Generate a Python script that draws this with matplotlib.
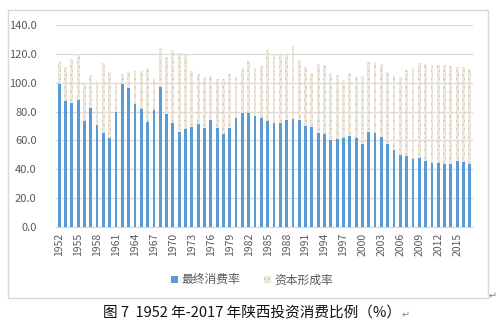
import matplotlib
matplotlib.use("Agg")
import matplotlib.pyplot as plt
import numpy as np
from matplotlib.patches import Rectangle

plt.rcParams['font.family'] = ['Noto Sans CJK SC', 'DejaVu Sans']
plt.rcParams['hatch.linewidth'] = 0.8

years = list(range(1952, 2018))
# 最终消费率
consumption = [99.3, 87.1, 85.7, 88.2, 73.7, 82.5, 71.0, 65.0, 61.8, 79.7,
               99.3, 96.3, 85.5, 82.0, 72.8, 80.9, 96.8, 78.3, 72.4, 66.1,
               68.0, 69.1, 71.4, 68.4, 74.2, 68.4, 64.7, 68.4, 75.8, 78.8,
               78.8, 77.2, 75.3, 73.7, 72.4, 71.9, 74.2, 74.9, 74.2, 70.0,
               69.6, 65.2, 64.3, 60.4, 60.8, 61.5, 62.9, 61.5, 57.8, 66.1,
               65.2, 62.2, 57.4, 53.5, 50.2, 49.3, 47.2, 47.7, 45.4, 44.5,
               44.2, 43.8, 44.0, 45.4, 44.9, 44.0]
# 资本形成率
capital = [15.2, 23.5, 30.7, 31.4, 25.8, 22.8, 29.7, 48.4, 45.8, 19.1,
           6.5, 10.8, 22.8, 25.8, 37.3, 22.1, 27.6, 39.2, 50.2, 54.2,
           51.4, 39.2, 34.4, 35.3, 30.6, 34.4, 37.6, 37.4, 29.0, 31.3,
           36.2, 33.2, 36.2, 48.9, 46.7, 47.2, 44.9, 50.2, 41.7, 41.1,
           37.1, 47.9, 47.7, 46.3, 44.5, 40.1, 44.0, 42.4, 47.0, 48.6,
           49.5, 50.7, 50.0, 51.3, 53.7, 59.7, 62.7, 66.1, 67.5, 67.5,
           68.2, 68.2, 67.3, 65.7, 66.2, 65.2]

fig = plt.figure(figsize=(4.99, 3.35), dpi=100)
W, H = 499, 335

# chart area border
fig.patches.append(Rectangle((8 / W, 1 - 298 / H), 480 / W, 288 / H,
                             transform=fig.transFigure, fill=False,
                             edgecolor='#D9D9D9', linewidth=1))

ax = fig.add_axes([56 / W, 1 - 227 / H, 417 / W, 202 / H])
x = np.arange(len(years))
ax.bar(x, consumption, width=0.45, color='#5B9BD5', label='最终消费率', zorder=3)
ax.bar(x, capital, width=0.45, bottom=consumption, color='#EEE9DF',
       edgecolor='#D5C9B4', hatch='....', linewidth=0, label='资本形成率', zorder=3)

ax.set_xlim(-0.5, len(years) - 0.5)
ax.set_ylim(0, 140)
ax.set_yticks(np.arange(0, 141, 20))
ax.set_yticklabels(['%.1f' % v for v in np.arange(0, 141, 20)])
ax.set_xticks(x[::3])
ax.set_xticklabels([str(y) for y in years[::3]], rotation=90)
ax.tick_params(axis='both', length=0, labelsize=7.5, colors='#595959', pad=4)
ax.tick_params(axis='y', labelsize=8, pad=14)
ax.grid(axis='y', color='#D9D9D9', linewidth=0.9, zorder=0)
for s in ax.spines.values():
    s.set_visible(False)
ax.spines['bottom'].set_visible(True)
ax.spines['bottom'].set_color('#D9D9D9')

leg = fig.legend(loc='center', bbox_to_anchor=(252 / W, 1 - 280 / H), ncol=2,
                 frameon=False, fontsize=8.5, handlelength=0.6, handleheight=0.6,
                 handletextpad=0.3, columnspacing=2.0)
for t in leg.get_texts():
    t.set_color('#595959')

fig.text(252 / W, 1 - 313 / H, '图 7  1952 年-2017 年陕西投资消费比例（%）',
         ha='center', va='center', fontsize=10.5, color='#111111')
fig.text(402 / W, 1 - 315 / H, '↵', ha='left', va='center', fontsize=7, color='#888888',
         family=['DejaVu Sans'])
fig.text(489 / W, 1 - 296 / H, '↵', ha='left', va='center', fontsize=7, color='#888888',
         family=['DejaVu Sans'])

fig.savefig('out.png', dpi=100)
